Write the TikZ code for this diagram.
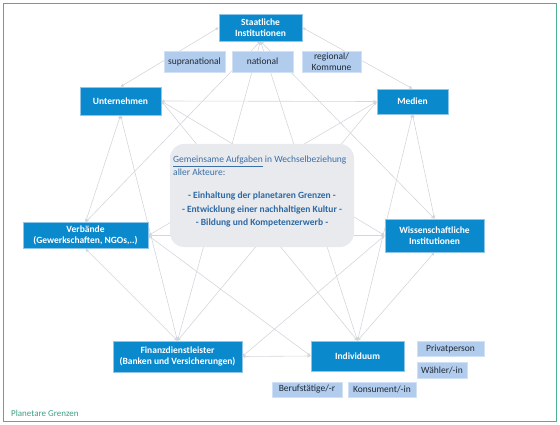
\documentclass[tikz,border=0pt]{standalone}
\usepackage{fontspec}
\setmainfont{Carlito}
\usetikzlibrary{arrows.meta,backgrounds}
\definecolor{boxblue}{HTML}{0B89CD}
\definecolor{boxedge}{HTML}{8EC5E8}
\definecolor{subfill}{HTML}{B2CCEE}
\definecolor{subedge}{HTML}{D0E0F5}
\definecolor{subtext}{HTML}{1F2A36}
\definecolor{cfill}{HTML}{E8EAEE}
\definecolor{ctext}{HTML}{3C6FA6}
\definecolor{ctextb}{HTML}{2D68A2}
\definecolor{linec}{HTML}{D3D6DB}
\definecolor{framec}{HTML}{4DAE92}
\definecolor{titlec}{HTML}{3D9F84}
\begin{document}
\begin{tikzpicture}[x=1pt,y=-1pt,
  actor/.style={draw=boxedge, line width=0.5pt, fill=boxblue, text=white,
    font=\fontsize{9.5}{11}\selectfont\bfseries, align=center, inner sep=0pt},
  role/.style={draw=subedge, line width=0.5pt, fill=subfill, text=subtext,
    font=\fontsize{9.5}{10.5}\selectfont, align=center, inner sep=0pt},
  link/.style={draw=linec, line width=0.6pt,
    {Triangle[length=3.2pt,width=3pt]}-{Triangle[length=3.2pt,width=3pt]}},
  framestyle/.style={draw=framec, line width=1.4pt}]
\useasboundingbox (0,0) rectangle (560,425);
% actors
\node[actor, minimum width=83pt, minimum height=27pt] (S) at (260.5,27.5) {Staatliche\\Institutionen};
\node[actor, minimum width=81pt, minimum height=28pt] (U) at (120.5,101) {Unternehmen};
\node[actor, minimum width=71pt, minimum height=25pt] (M) at (412.5,101.5) {Medien};
\node[actor, minimum width=125pt, minimum height=26pt] (V) at (85.5,235.5) {Verbände\\(Gewerkschaften, NGOs,..)};
\node[actor, minimum width=99pt, minimum height=33pt] (W) at (434.5,235.5) {Wissenschaftliche\\Institutionen};
\node[actor, minimum width=129pt, minimum height=31pt] (F) at (177.5,356.5) {Finanzdienstleister\\(Banken und Versicherungen)};
\node[actor, minimum width=93pt, minimum height=30pt] (I) at (357.5,356) {Individuum};
% roles
\node[role, minimum width=61pt, minimum height=21pt] (supra) at (194.5,61.5) {supranational};
\node[role, minimum width=61pt, minimum height=21pt] (nat) at (262.5,61.5) {national};
\node[role, minimum width=59pt, minimum height=21pt] (reg) at (331.5,61.5) {regional/\\Kommune};
\node[role, minimum width=67pt, minimum height=15pt] (priv) at (450.5,348.5) {Privatperson};
\node[role, minimum width=50pt, minimum height=16pt] (waehl) at (442,370) {Wähler/-in};
\node[role, minimum width=70pt, minimum height=15pt] (beruf) at (307,389.5) {Berufstätige/-r};
\node[role, minimum width=68pt, minimum height=15pt] (kons) at (382,389.5) {Konsument/-in};
% centre
\node[fill=cfill, rounded corners=14pt, minimum width=184pt, minimum height=103pt, inner sep=0pt] (C) at (262,195.5) {};
\node[anchor=north west, inner sep=0pt, align=left, text=ctext,
  font=\fontsize{9.5}{12.5}\selectfont] (Cintro) at (173,156)
  {\underline{Gemeinsame Aufgaben} in Wechselbeziehung\\aller Akteure:};
\node[inner sep=0pt, align=center, text=ctextb,
  font=\fontsize{9.5}{13.5}\selectfont\bfseries] (Ctasks) at (262,209.5)
  {- Einhaltung der planetaren Grenzen -\\- Entwicklung einer nachhaltigen Kultur -\\- Bildung und Kompetenzerwerb -};
% title
\node[anchor=west, inner sep=0pt, text=titlec, font=\fontsize{9}{11}\selectfont] (title) at (11,413) {Planetare Grenzen};
% connectors
\begin{scope}[on background layer]
\draw[link] (S.west) -- (U.north);
\draw[link] (S.east) -- (M.north);
\draw[link] (S.south) -- (V.north);
\draw[link] (S.south) -- (F.north);
\draw[link] (S.south) -- (I.north);
\draw[link] (S.south) -- (W.north);
\draw[link] (U.east) -- (M.west);
\draw[link] (U.south) -- (V.north);
\draw[link] (U.south) -- (F.north);
\draw[link] (U.east) -- (I.north);
\draw[link] (U.east) -- (W.west);
\draw[link] (M.west) -- (V.east);
\draw[link] (M.west) -- (F.north);
\draw[link] (M.south) -- (W.north);
\draw[link] (M.south) -- (I.north);
\draw[link] (V.east) -- (W.west);
\draw[link] (V.south) -- (F.north);
\draw[link] (V.east) -- (I.west);
\draw[link] (W.west) -- (F.east);
\draw[link] (W.south) -- (I.north);
\draw[link] (F.east) -- (I.west);
\end{scope}
% frame
\draw[framestyle] (3.5,3.5) rectangle (556.5,421.5);
\end{tikzpicture}
\end{document}
